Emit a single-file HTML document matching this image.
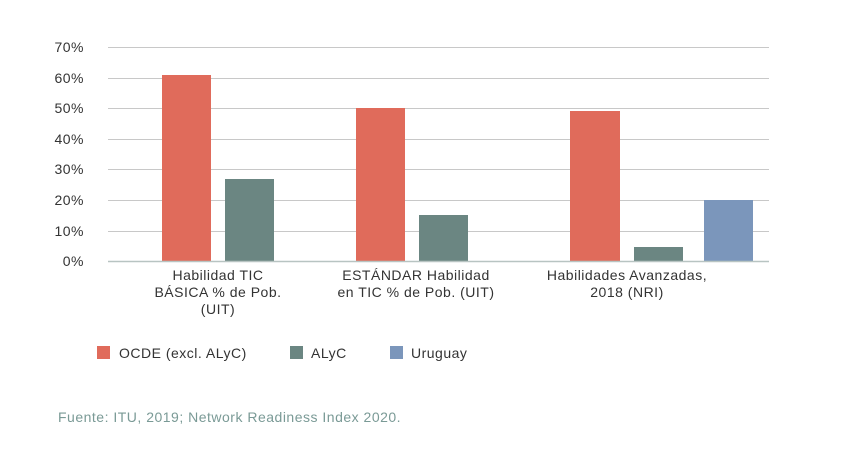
<!DOCTYPE html><html><head><style>body{margin:0;background:#fff}</style></head><body>
<svg width="848" height="445" xmlns="http://www.w3.org/2000/svg" font-family="Liberation Sans, sans-serif" letter-spacing="0.5">
<g stroke="#c8c8c8" stroke-width="1">
<line x1="108" x2="769" y1="47.5" y2="47.5"/><line x1="108" x2="769" y1="78.5" y2="78.5"/><line x1="108" x2="769" y1="108.5" y2="108.5"/><line x1="108" x2="769" y1="139.5" y2="139.5"/><line x1="108" x2="769" y1="169.5" y2="169.5"/><line x1="108" x2="769" y1="200.5" y2="200.5"/><line x1="108" x2="769" y1="231.5" y2="231.5"/>
</g>
<g fill="#333" font-size="14" text-anchor="end">
<text x="84" y="52">70%</text><text x="84" y="83">60%</text><text x="84" y="113">50%</text><text x="84" y="144">40%</text><text x="84" y="174">30%</text><text x="84" y="205">20%</text><text x="84" y="236">10%</text><text x="84" y="266">0%</text>
</g>
<g fill="#e06b5b"><rect x="162" y="75" width="49" height="186"/><rect x="356" y="108" width="49" height="153"/><rect x="570" y="111" width="50" height="150"/></g>
<g fill="#6b8682"><rect x="225" y="179" width="49" height="82"/><rect x="419" y="215" width="49" height="46"/><rect x="634" y="247" width="49" height="14"/></g>
<rect x="704" y="200" width="49" height="61" fill="#7b96bb"/>
<line x1="108" x2="769" y1="261.5" y2="261.5" stroke="#b8c4c2" stroke-width="1.5"/>
<g fill="#333" font-size="14" text-anchor="middle">
<text x="218" y="280">Habilidad TIC</text><text x="218" y="297">BÁSICA % de Pob.</text><text x="218" y="314">(UIT)</text>
<text x="416" y="280">ESTÁNDAR Habilidad</text><text x="416" y="297">en TIC % de Pob. (UIT)</text>
<text x="627" y="280">Habilidades Avanzadas,</text><text x="627" y="297">2018 (NRI)</text>
</g>
<rect x="97" y="346" width="13" height="13" fill="#e06b5b"/><rect x="290" y="346" width="13" height="13" fill="#6b8682"/><rect x="390" y="346" width="13" height="13" fill="#7b96bb"/>
<g fill="#333" font-size="14"><text x="119" y="358">OCDE (excl. ALyC)</text><text x="311" y="358">ALyC</text><text x="411" y="358">Uruguay</text></g>
<text x="58" y="422" font-size="14" fill="#7a9a96">Fuente: ITU, 2019; Network Readiness Index 2020.</text>
</svg></body></html>
